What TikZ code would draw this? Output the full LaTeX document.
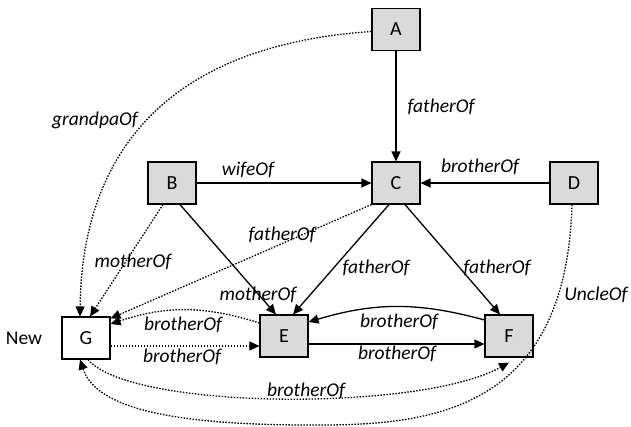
\documentclass[tikz,border=0pt]{standalone}
\usepackage{fontspec}
\setmainfont{Carlito}
\usetikzlibrary{arrows.meta}
\definecolor{boxgray}{RGB}{218,218,218}
\tikzset{
  box/.style={draw=black, line width=1.1pt, fill=boxgray, minimum width=48pt, minimum height=42pt, inner sep=0pt, font=\fontsize{20}{22}\selectfont},
  newbox/.style={box, fill=white},
  lbl/.style={font=\fontsize{19.5}{21}\selectfont\itshape, inner sep=0pt},
  plain/.style={font=\fontsize{19.5}{21}\selectfont, inner sep=0pt},
  solidarrow/.style={line width=1.3pt, -{Triangle[length=10pt,width=9pt]}},
  dotarrow/.style={line width=1.3pt, dash pattern=on 1.5pt off 1.5pt, -{Triangle[length=10pt,width=9pt]}},
}
\begin{document}
\begin{tikzpicture}[x=1pt,y=-1pt]
\useasboundingbox (0,0) rectangle (631,426);
% nodes
\node[box] (A) at (396,29.5) {A};
\node[box] (B) at (172,183) {B};
\node[box] (C) at (396,183) {C};
\node[box] (D) at (574,183) {D};
\node[box] (E) at (284,336) {E};
\node[box] (F) at (509,336) {F};
\node[newbox] (G) at (86,338) {G};
\node[plain] (new) at (24,338) {New};
% solid edges
\draw[solidarrow] (A) -- (C);
\draw[solidarrow] (B) -- (C);
\draw[solidarrow] (D) -- (C);
\draw[solidarrow] ([xshift=8pt]B.south) -- ([xshift=-8pt]E.north);
\draw[solidarrow] ([xshift=-7pt]C.south) -- ([xshift=9pt]E.north);
\draw[solidarrow] ([xshift=9pt]C.south) -- ([xshift=-9pt]F.north);
\draw[solidarrow] ([yshift=16pt]F.west) to[bend right=16] ([yshift=14pt]E.east);
\draw[solidarrow] ([yshift=-8pt]E.east) -- ([yshift=-8pt]F.west);
% dotted edges
\draw[dotarrow] ([yshift=-2pt]A.west) .. controls (170,45) and (82,150) .. ([xshift=-6pt]G.north);
\draw[dotarrow] ([xshift=-9pt]B.south) -- ([xshift=4pt]G.north);
\draw[dotarrow] (C.south west) -- ([yshift=-2pt]G.north east);
\draw[dotarrow] ([yshift=13pt]E.west) to[bend right=18] ([yshift=14pt]G.east);
\draw[dotarrow] ([yshift=-8pt]G.east) -- ([yshift=-10pt]E.west);
\draw[dotarrow] ([xshift=2pt]G.south) .. controls (130,410) and (420,412) .. ([yshift=-5pt]F.south);
\draw[dotarrow] ([xshift=-2pt]D.south) .. controls (566,420) and (420,426) .. (300,425) .. controls (160,424) and (95,405) .. ([xshift=-6pt]G.south);
% labels
\node[lbl] (l1) at (441,107) {fatherOf};
\node[lbl] (l2) at (95,120) {grandpaOf};
\node[lbl] (l3) at (248,170) {wifeOf};
\node[lbl] (l4) at (480,167) {brotherOf};
\node[lbl] (l5) at (133,262) {motherOf};
\node[lbl] (l6) at (282,235) {fatherOf};
\node[lbl] (l7) at (258,295) {motherOf};
\node[lbl] (l8) at (376,268) {fatherOf};
\node[lbl] (l9) at (497,268) {fatherOf};
\node[lbl] (l10) at (596,295) {UncleOf};
\node[lbl] (l11) at (183,325) {brotherOf};
\node[lbl] (l12) at (182,357) {brotherOf};
\node[lbl] (l13) at (399,322) {brotherOf};
\node[lbl] (l14) at (397,354) {brotherOf};
\node[lbl] (l15) at (306,391) {brotherOf};
\end{tikzpicture}
\end{document}
